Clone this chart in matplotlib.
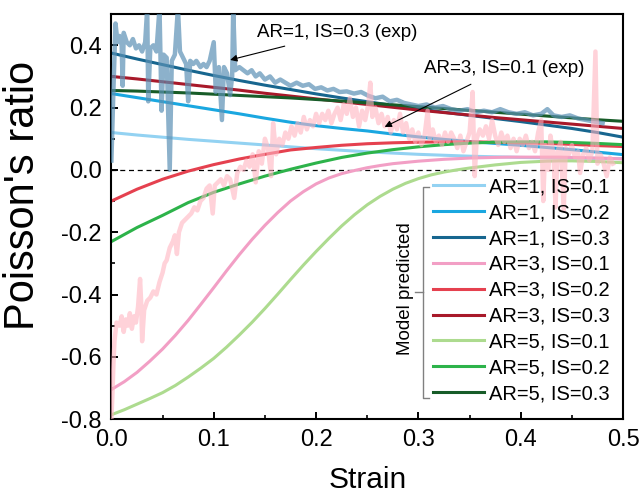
import matplotlib
matplotlib.use("Agg")
import matplotlib.pyplot as plt
from matplotlib.ticker import MultipleLocator

plt.rcParams['font.family'] = ['Liberation Sans', 'DejaVu Sans']
plt.rcParams['axes.unicode_minus'] = False

# model curves, sampled every 0.025 strain
strain = [0.000, 0.025, 0.050, 0.075, 0.100, 0.125, 0.150, 0.175, 0.200, 0.225, 0.250,
          0.275, 0.300, 0.325, 0.350, 0.375, 0.400, 0.425, 0.450, 0.475, 0.500]
# the two S-shaped curves are read every 0.0125
strain_fine = [0.0000, 0.0125, 0.0250, 0.0375, 0.0500, 0.0625, 0.0750, 0.0875, 0.1000, 0.1125,
               0.1250, 0.1375, 0.1500, 0.1625, 0.1750, 0.1875, 0.2000, 0.2125, 0.2250, 0.2375,
               0.2500, 0.2625, 0.2750, 0.2875, 0.3000, 0.3125, 0.3250, 0.3375, 0.3500, 0.3625,
               0.3750, 0.3875, 0.4000, 0.4125, 0.4250, 0.4375, 0.4500, 0.4625, 0.4750, 0.4875,
               0.5000]

ar1_is01 = [0.120, 0.112, 0.105, 0.098, 0.092, 0.086, 0.080, 0.074, 0.068, 0.063, 0.058,
            0.054, 0.050, 0.047, 0.044, 0.042, 0.040, 0.039, 0.038, 0.037, 0.036]
ar1_is02 = [0.245, 0.232, 0.219, 0.206, 0.193, 0.180, 0.166, 0.153, 0.142, 0.133, 0.125,
            0.115, 0.106, 0.098, 0.091, 0.085, 0.079, 0.072, 0.065, 0.057, 0.049]
ar1_is03 = [0.375, 0.356, 0.338, 0.320, 0.303, 0.287, 0.272, 0.258, 0.244, 0.231, 0.219,
            0.207, 0.196, 0.185, 0.175, 0.165, 0.155, 0.144, 0.133, 0.120, 0.105]
ar3_is01 = [-0.705, -0.680, -0.650, -0.614, -0.575, -0.531, -0.483, -0.431, -0.378, -0.324,
            -0.272, -0.223, -0.178, -0.137, -0.100, -0.070, -0.045, -0.026, -0.012, -0.002,
            0.007, 0.014, 0.020, 0.024, 0.028, 0.031, 0.034, 0.036, 0.038, 0.039,
            0.040, 0.041, 0.041, 0.041, 0.041, 0.041, 0.040, 0.039, 0.038, 0.037,
            0.035]
ar3_is02 = [-0.100, -0.062, -0.030, -0.004, 0.017, 0.035, 0.050, 0.064, 0.072, 0.079, 0.084,
            0.087, 0.089, 0.090, 0.090, 0.089, 0.087, 0.085, 0.082, 0.078, 0.075]
ar3_is03 = [0.300, 0.292, 0.283, 0.274, 0.265, 0.256, 0.246, 0.237, 0.228, 0.219, 0.210,
            0.201, 0.192, 0.184, 0.176, 0.168, 0.161, 0.154, 0.147, 0.140, 0.133]
ar5_is01 = [-0.786, -0.770, -0.752, -0.734, -0.715, -0.692, -0.665, -0.636, -0.605, -0.569,
            -0.530, -0.489, -0.445, -0.399, -0.352, -0.306, -0.262, -0.220, -0.180, -0.144,
            -0.112, -0.085, -0.062, -0.043, -0.028, -0.016, -0.007, 0.000, 0.006, 0.011,
            0.016, 0.020, 0.024, 0.026, 0.028, 0.029, 0.029, 0.028, 0.027, 0.025,
            0.023]
ar5_is02 = [-0.230, -0.185, -0.146, -0.105, -0.072, -0.045, -0.020, 0.002, 0.022, 0.040, 0.054,
            0.065, 0.074, 0.081, 0.086, 0.089, 0.090, 0.090, 0.088, 0.085, 0.081]
ar5_is03 = [0.255, 0.253, 0.250, 0.247, 0.243, 0.239, 0.235, 0.231, 0.226, 0.221, 0.215,
            0.209, 0.203, 0.197, 0.191, 0.185, 0.179, 0.173, 0.167, 0.161, 0.156]

model_labels = ['AR=1, IS=0.1', 'AR=1, IS=0.2', 'AR=1, IS=0.3',
                'AR=3, IS=0.1', 'AR=3, IS=0.2', 'AR=3, IS=0.3',
                'AR=5, IS=0.1', 'AR=5, IS=0.2', 'AR=5, IS=0.3']
model_colors = ['#93d2f2', '#1aa7e0', '#17668f',
                '#f29fc5', '#e5414f', '#a8192a',
                '#addb8f', '#2db34a', '#175c28']

# experiment AR=1, IS=0.3
exp1_strain = [0.000, 0.002, 0.004, 0.006, 0.008, 0.010, 0.011, 0.012, 0.015, 0.018, 0.021, 0.024,
               0.027, 0.030, 0.033, 0.035, 0.036, 0.038, 0.041, 0.044, 0.047, 0.049, 0.051, 0.054,
               0.057, 0.059, 0.062, 0.065, 0.067, 0.070, 0.073, 0.075, 0.077, 0.080, 0.083, 0.087,
               0.090, 0.093, 0.096, 0.100, 0.102, 0.105, 0.108, 0.110, 0.113, 0.116, 0.118, 0.119,
               0.121, 0.125, 0.129, 0.133, 0.137, 0.141, 0.145, 0.150, 0.155, 0.160, 0.165, 0.170,
               0.175, 0.181, 0.187, 0.193, 0.199, 0.205, 0.211, 0.217, 0.223, 0.230, 0.237, 0.244,
               0.251, 0.258, 0.265, 0.272, 0.279, 0.286, 0.293, 0.300, 0.308, 0.316, 0.324, 0.332,
               0.340, 0.348, 0.356, 0.364, 0.372, 0.380, 0.388, 0.396, 0.404, 0.412, 0.420, 0.426,
               0.432, 0.440, 0.448, 0.456, 0.464, 0.472, 0.480]
exp1_nu = [0.03, 0.26, 0.47, 0.41, 0.43, 0.40, 0.27, 0.44, 0.41, 0.40, 0.42, 0.39,
           0.40, 0.38, 0.41, 0.52, 0.22, 0.39, 0.40, 0.38, 0.52, 0.19, 0.37, 0.36,
           0.00, 0.35, 0.37, 0.52, 0.38, 0.36, 0.34, 0.22, 0.35, 0.34, 0.35, 0.33,
           0.34, 0.33, 0.35, 0.41, 0.25, 0.33, 0.16, 0.33, 0.31, 0.24, 0.30, 0.52,
           0.32, 0.33, 0.32, 0.31, 0.32, 0.30, 0.31, 0.29, 0.30, 0.28, 0.29, 0.28,
           0.27, 0.28, 0.27, 0.275, 0.26, 0.265, 0.255, 0.26, 0.25, 0.252, 0.245, 0.25,
           0.238, 0.23, 0.235, 0.22, 0.225, 0.215, 0.21, 0.205, 0.21, 0.20, 0.205, 0.195,
           0.19, 0.195, 0.185, 0.19, 0.185, 0.195, 0.185, 0.18, 0.185, 0.175, 0.18, 0.195,
           0.175, 0.17, 0.175, 0.165, 0.16, 0.155, 0.15]

# experiment AR=3, IS=0.1
exp3_strain = [0.000, 0.001, 0.002, 0.003, 0.005, 0.008, 0.010, 0.012, 0.014, 0.016, 0.018, 0.020,
               0.022, 0.024, 0.026, 0.028, 0.029, 0.030, 0.032, 0.035, 0.038, 0.041, 0.044, 0.047,
               0.050, 0.052, 0.054, 0.057, 0.060, 0.062, 0.064, 0.066, 0.069, 0.072, 0.075, 0.078,
               0.081, 0.084, 0.087, 0.090, 0.093, 0.096, 0.099, 0.101, 0.104, 0.107, 0.110, 0.113,
               0.116, 0.120, 0.123, 0.126, 0.129, 0.132, 0.135, 0.138, 0.141, 0.144, 0.147, 0.150,
               0.153, 0.156, 0.158, 0.161, 0.164, 0.167, 0.170, 0.173, 0.176, 0.179, 0.182, 0.185,
               0.188, 0.191, 0.194, 0.197, 0.200, 0.203, 0.206, 0.209, 0.212, 0.215, 0.218, 0.221,
               0.224, 0.227, 0.230, 0.233, 0.236, 0.239, 0.242, 0.245, 0.248, 0.251, 0.253, 0.255,
               0.258, 0.261, 0.264, 0.267, 0.270, 0.273, 0.276, 0.279, 0.282, 0.285, 0.288, 0.291,
               0.294, 0.297, 0.300, 0.303, 0.306, 0.309, 0.311, 0.314, 0.317, 0.320, 0.323, 0.326,
               0.329, 0.332, 0.335, 0.338, 0.341, 0.344, 0.347, 0.350, 0.353, 0.355, 0.357, 0.360,
               0.363, 0.366, 0.369, 0.372, 0.375, 0.378, 0.381, 0.384, 0.387, 0.390, 0.393, 0.396,
               0.399, 0.402, 0.405, 0.408, 0.411, 0.414, 0.417, 0.420, 0.422, 0.424, 0.427, 0.429,
               0.432, 0.434, 0.436, 0.439, 0.442, 0.444, 0.447, 0.450, 0.453, 0.456, 0.458, 0.461,
               0.464, 0.467, 0.470, 0.473, 0.475, 0.478, 0.481, 0.484, 0.487, 0.490]
exp3_nu = [-0.80, -0.72, -0.62, -0.55, -0.49, -0.50, -0.47, -0.52, -0.48, -0.50, -0.46, -0.51,
           -0.47, -0.49, -0.44, -0.35, -0.42, -0.55, -0.45, -0.42, -0.41, -0.39, -0.40, -0.36,
           -0.33, -0.30, -0.29, -0.25, -0.23, -0.21, -0.27, -0.20, -0.17, -0.16, -0.15, -0.14,
           -0.12, -0.13, -0.10, -0.09, -0.06, -0.05, -0.14, -0.05, -0.04, -0.03, -0.05, -0.02,
           -0.03, -0.09, -0.01, 0.01, 0.00, 0.03, 0.01, 0.05, -0.04, 0.06, 0.02, 0.10,
           0.07, -0.02, 0.15, 0.05, 0.10, 0.08, 0.12, 0.10, 0.14, 0.11, 0.15, 0.12,
           0.17, 0.13, 0.16, 0.14, 0.18, 0.15, 0.18, 0.16, 0.19, 0.15, 0.18, 0.20,
           0.16, 0.21, 0.18, 0.23, 0.17, 0.20, 0.14, 0.19, 0.16, 0.21, 0.28, 0.17,
           0.20, 0.15, 0.18, 0.14, 0.17, 0.12, 0.16, 0.13, 0.18, 0.12, 0.15, 0.10,
           0.13, 0.09, 0.12, 0.08, 0.11, 0.19, 0.10, 0.13, 0.09, 0.11, 0.08, 0.12,
           0.09, 0.12, 0.10, 0.07, 0.11, 0.06, 0.09, 0.12, 0.25, -0.02, 0.10, 0.13,
           0.11, 0.14, 0.10, 0.16, 0.11, 0.08, 0.12, 0.09, 0.11, 0.07, 0.10, 0.06,
           0.10, 0.08, 0.11, 0.07, 0.09, 0.06, 0.12, 0.16, -0.10, 0.08, 0.00, 0.11,
           0.05, -0.12, 0.06, 0.09, -0.13, 0.07, 0.05, 0.08, 0.04, 0.06, -0.01, 0.05,
           0.07, 0.03, 0.06, 0.38, 0.02, 0.05, 0.02, -0.02, 0.04, 0.02]

x_ticks = [0.0, 0.1, 0.2, 0.3, 0.4, 0.5]
x_ticklabels = ['0.0', '0.1', '0.2', '0.3', '0.4', '0.5']
y_ticks = [-0.8, -0.6, -0.4, -0.2, 0.0, 0.2, 0.4]
y_ticklabels = ['-0.8', '-0.6', '-0.4', '-0.2', '0.0', '0.2', '0.4']

fig = plt.figure(figsize=(6.44, 4.96), dpi=100)
ax = fig.add_axes([0.173, 0.155, 0.7945, 0.8165])

ax.axhline(0, color='k', lw=0.9, ls=(0, (4, 3)), zorder=1)

models = [ar1_is01, ar1_is02, ar1_is03, ar3_is01, ar3_is02, ar3_is03, ar5_is01, ar5_is02, ar5_is03]
handles = []
for vals, lab, col in zip(models, model_labels, model_colors):
    xs = strain_fine if len(vals) == len(strain_fine) else strain
    h, = ax.plot(xs, vals, color=col, lw=2.2, label=lab, zorder=2)
    handles.append(h)

ax.plot(exp1_strain, exp1_nu, color='#5b91b5', lw=3.2, alpha=0.7, zorder=3)
ax.plot(exp3_strain, exp3_nu, color='#ffb4c1', lw=3.2, alpha=0.6, zorder=3)

ax.set_xlim(0, 0.5)
ax.set_ylim(-0.8, 0.5)
ax.set_xticks(x_ticks)
ax.set_xticklabels(x_ticklabels)
ax.set_yticks(y_ticks)
ax.set_yticklabels(y_ticklabels)
ax.xaxis.set_minor_locator(MultipleLocator(0.05))
ax.yaxis.set_minor_locator(MultipleLocator(0.1))
ax.tick_params(which='major', direction='in', length=5, width=1.4, labelsize=17, pad=7)
ax.tick_params(which='minor', direction='in', length=3, width=1.2)
for sp in ax.spines.values():
    sp.set_linewidth(1.5)

ax.set_xlabel('Strain', fontsize=21.5, va='baseline')
ax.set_ylabel("Poisson's ratio", fontsize=30)
ax.xaxis.set_label_coords(0.5, -0.17)
ax.yaxis.set_label_coords(-0.133, 0.553)

ax.annotate('AR=1, IS=0.3 (exp)', xy=(0.116, 0.353), xytext=(0.1426, 0.44),
            fontsize=13.5, ha='left', va='center',
            arrowprops=dict(arrowstyle='-|>', color='k', lw=0.8, mutation_scale=10,
                            shrinkA=6, shrinkB=0))
ax.annotate('AR=3, IS=0.1 (exp)', xy=(0.267, 0.138), xytext=(0.305, 0.327),
            fontsize=13.5, ha='left', va='center',
            arrowprops=dict(arrowstyle='-|>', color='k', lw=0.8, mutation_scale=10,
                            shrinkA=8, shrinkB=0))

ax.legend(handles=handles, loc='upper left', bbox_to_anchor=(0.629, 0.597),
          frameon=False, fontsize=14.5, borderpad=0, borderaxespad=0,
          handlelength=2.5, handletextpad=0.25, labelspacing=0.34)

# bracket for the legend group
tr = ax.transAxes
ax.plot([0.621, 0.609, 0.609, 0.621], [0.573, 0.573, 0.052, 0.052],
        color='#808080', lw=1, transform=tr, clip_on=False)
ax.plot([0.594, 0.609], [0.314, 0.314], color='#808080', lw=1, transform=tr, clip_on=False)
ax.text(0.574, 0.323, 'Model predicted', rotation=90, fontsize=13.5,
        ha='center', va='center', transform=tr)

fig.savefig('out.png', dpi=100)
